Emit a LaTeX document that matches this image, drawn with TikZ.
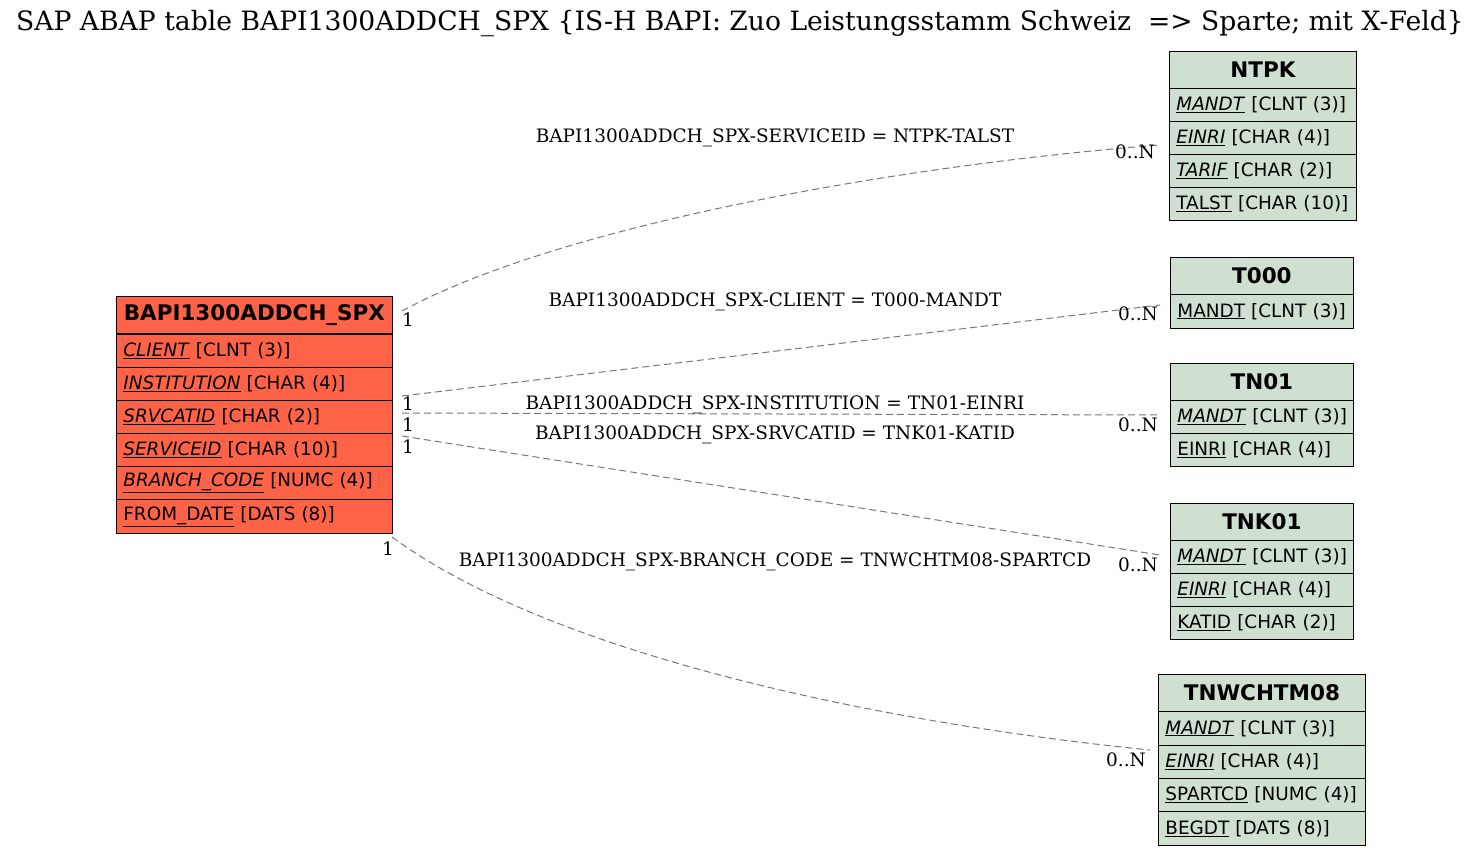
\documentclass[tikz,border=0pt]{standalone}
\usepackage{fontspec}
\setmainfont{DejaVu Serif}
\newfontfamily\tblfont{DejaVu Sans}
\definecolor{mainfill}{RGB}{255,99,71}
\definecolor{reffill}{RGB}{208,224,208}
\definecolor{edgecol}{RGB}{120,120,120}
\tikzset{
  hdr/.style={draw=black, line width=0.8pt, anchor=north west, minimum height=37pt, inner sep=0pt,
    font=\tblfont\bfseries\fontsize{21.5}{25}\selectfont},
  tblrow/.style={draw=black, line width=0.8pt, anchor=north west, minimum height=33pt, inner xsep=7pt, inner ysep=0pt,
    align=left, font=\tblfont\fontsize{18.4}{22}\selectfont},
  mainc/.style={fill=mainfill},
  refc/.style={fill=reffill},
  rel/.style={draw=edgecol, dash pattern=on 7pt off 4pt, line width=1pt},
  lbl/.style={font=\fontsize{18.5}{22}\selectfont, inner sep=0pt},
  card/.style={font=\fontsize{18.5}{22}\selectfont, inner sep=0pt}
}
\newcommand{\uit}[1]{\underline{\textit{#1}}}
\begin{document}
\begin{tikzpicture}[x=1pt,y=-1pt]
\useasboundingbox[fill=white] (0,0) rectangle (1481,856);
\node[font=\fontsize{26.6}{30}\selectfont] (title) at (740,24) {SAP ABAP table BAPI1300ADDCH\_SPX \{IS-H BAPI: Zuo Leistungsstamm Schweiz\ \ => Sparte; mit X-Feld\}};

% main table
\node[hdr, mainc, minimum width=276pt] (bapi) at (116,296) {BAPI1300ADDCH\_SPX};
\node[tblrow, mainc, text width=262pt] (bapi-client) at (116,334) {\mbox{\uit{CLIENT} [CLNT (3)]}};
\node[tblrow, mainc, text width=262pt] (bapi-inst) at (116,367) {\mbox{\uit{INSTITUTION} [CHAR (4)]}};
\node[tblrow, mainc, text width=262pt] (bapi-srv) at (116,400) {\mbox{\uit{SRVCATID} [CHAR (2)]}};
\node[tblrow, mainc, text width=262pt] (bapi-sid) at (116,433) {\mbox{\uit{SERVICEID} [CHAR (10)]}};
\node[tblrow, mainc, text width=262pt] (bapi-br) at (116,466) {\mbox{\uit{BRANCH\_CODE} [NUMC (4)]}};
\node[tblrow, mainc, text width=262pt, minimum height=34pt] (bapi-fd) at (116,499) {\mbox{\underline{FROM\_DATE} [DATS (8)]}};

% NTPK
\node[hdr, refc, minimum width=187pt] (ntpk) at (1169,51) {NTPK};
\node[tblrow, refc, text width=173pt] (ntpk-mandt) at (1169,88) {\mbox{\uit{MANDT} [CLNT (3)]}};
\node[tblrow, refc, text width=173pt] (ntpk-einri) at (1169,121) {\mbox{\uit{EINRI} [CHAR (4)]}};
\node[tblrow, refc, text width=173pt] (ntpk-tarif) at (1169,154) {\mbox{\uit{TARIF} [CHAR (2)]}};
\node[tblrow, refc, text width=173pt] (ntpk-talst) at (1169,187) {\mbox{\underline{TALST} [CHAR (10)]}};

% T000
\node[hdr, refc, minimum width=183pt] (t000) at (1170,257) {T000};
\node[tblrow, refc, text width=169pt, minimum height=34pt] (t000-mandt) at (1170,294) {\mbox{\underline{MANDT} [CLNT (3)]}};

% TN01
\node[hdr, refc, minimum width=183pt] (tn01) at (1170,363) {TN01};
\node[tblrow, refc, text width=169pt] (tn01-mandt) at (1170,400) {\mbox{\uit{MANDT} [CLNT (3)]}};
\node[tblrow, refc, text width=169pt] (tn01-einri) at (1170,433) {\mbox{\underline{EINRI} [CHAR (4)]}};

% TNK01
\node[hdr, refc, minimum width=183pt] (tnk01) at (1170,503) {TNK01};
\node[tblrow, refc, text width=169pt] (tnk01-mandt) at (1170,540) {\mbox{\uit{MANDT} [CLNT (3)]}};
\node[tblrow, refc, text width=169pt] (tnk01-einri) at (1170,573) {\mbox{\uit{EINRI} [CHAR (4)]}};
\node[tblrow, refc, text width=169pt] (tnk01-katid) at (1170,606) {\mbox{\underline{KATID} [CHAR (2)]}};

% TNWCHTM08
\node[hdr, refc, minimum width=207pt] (tnw) at (1158,674) {TNWCHTM08};
\node[tblrow, refc, text width=193pt, minimum height=34pt] (tnw-mandt) at (1158,711) {\mbox{\uit{MANDT} [CLNT (3)]}};
\node[tblrow, refc, text width=193pt] (tnw-einri) at (1158,745) {\mbox{\uit{EINRI} [CHAR (4)]}};
\node[tblrow, refc, text width=193pt] (tnw-spartcd) at (1158,778) {\mbox{\underline{SPARTCD} [NUMC (4)]}};
\node[tblrow, refc, text width=193pt, minimum height=34pt] (tnw-begdt) at (1158,811) {\mbox{\underline{BEGDT} [DATS (8)]}};

% connector end points
\coordinate (s1) at (402,311);
\coordinate (e1) at (1160,145);
\coordinate (s2) at (402,396);
\coordinate (e2) at (1160,305);
\coordinate (s3) at (402,413);
\coordinate (e3) at (1160,415);
\coordinate (s4) at (402,436);
\coordinate (e4) at (1160,555);
\coordinate (s5) at (392,537);
\coordinate (e5) at (1150,750);

\draw[rel] (s1) .. controls (560,225) and (900,165) .. (e1);
\draw[rel] (s2) -- (e2);
\draw[rel] (s3) -- (e3);
\draw[rel] (s4) -- (e4);
\draw[rel] (s5) .. controls (560,660) and (900,725) .. (e5);

% labels
\node[lbl] (l1) at (775,138) {BAPI1300ADDCH\_SPX-SERVICEID = NTPK-TALST};
\node[lbl] (l2) at (775,302) {BAPI1300ADDCH\_SPX-CLIENT = T000-MANDT};
\node[lbl] (l3) at (775,405) {BAPI1300ADDCH\_SPX-INSTITUTION = TN01-EINRI};
\node[lbl] (l4) at (775,435) {BAPI1300ADDCH\_SPX-SRVCATID = TNK01-KATID};
\node[lbl] (l5) at (775,562) {BAPI1300ADDCH\_SPX-BRANCH\_CODE = TNWCHTM08-SPARTCD};

\node[card] (c1a) at (408,320) {1};
\node[card] (c1b) at (1135,152) {0..N};
\node[card] (c2a) at (408,404) {1};
\node[card] (c2b) at (1138,314) {0..N};
\node[card] (c3a) at (408,425) {1};
\node[card] (c3b) at (1138,425) {0..N};
\node[card] (c4a) at (408,447) {1};
\node[card] (c4b) at (1138,565) {0..N};
\node[card] (c5a) at (388,549) {1};
\node[card] (c5b) at (1126,760) {0..N};
\end{tikzpicture}
\end{document}
